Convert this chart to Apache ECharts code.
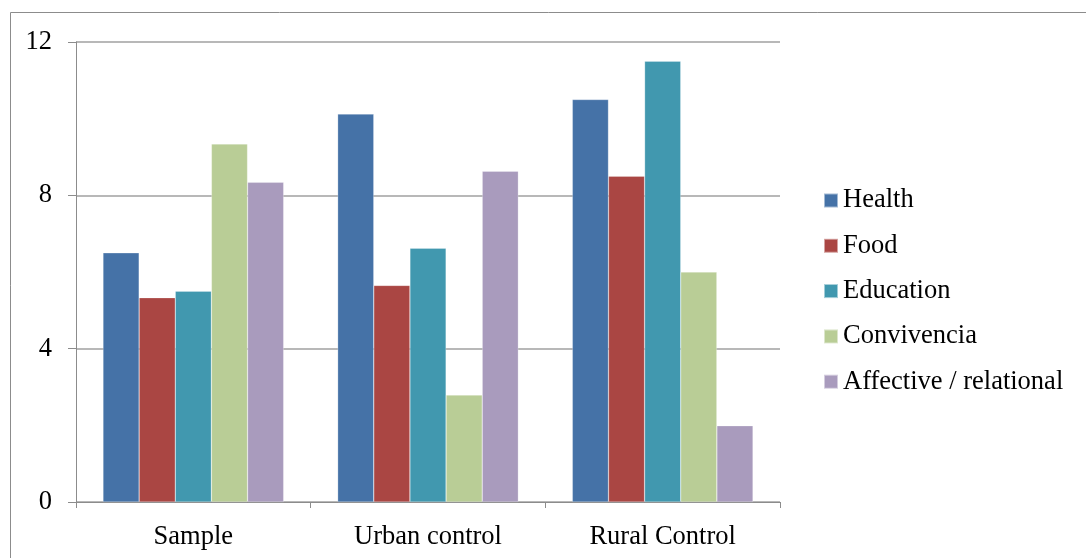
<!DOCTYPE html>
<html>
<head>
<meta charset="utf-8">
<script src="https://cdn.jsdelivr.net/npm/echarts@6/dist/echarts.min.js"></script>
<style>
    html, body { margin: 0; padding: 0; background: #fff; }
    #chart { width: 1086px; height: 558px; }
</style>
</head>
<body>
<div id="chart"></div>
<script>
    // groups on the x axis
    const categories = ['Sample', 'Urban control', 'Rural Control'];
    // one list per need, values per group
    const health = [6.5, 10.12, 10.5];
    const food = [5.33, 5.65, 8.5];
    const education = [5.5, 6.62, 11.5];
    const convivencia = [9.34, 2.79, 6.0];
    const affective = [8.34, 8.63, 1.99];
    const seriesNames = ['Health', 'Food', 'Education', 'Convivencia', 'Affective / relational'];
    const yTicks = [0, 4, 8, 12];

    const colors = ['#4572a7', '#aa4643', '#4198af', '#b9cd96', '#a99bbd'];
    const values = [health, food, education, convivencia, affective];
    const font = '"Liberation Serif", "Times New Roman", serif';
    const fontSize = 26.5;

    const chart = echarts.init(document.getElementById('chart'));
    chart.setOption({
        animation: false,
        color: colors,
        textStyle: { fontFamily: font },
        grid: { left: 76, top: 42, right: 306, bottom: 56 },
        legend: {
            orient: 'vertical',
            left: 823,
            top: 187,
            padding: 0,
            itemWidth: 14,
            itemHeight: 14,
            itemGap: 18.3,
            icon: 'rect',
            data: seriesNames,
            textStyle: { fontSize: fontSize, color: '#000', fontFamily: font, lineHeight: fontSize }
        },
        xAxis: {
            type: 'category',
            data: categories,
            axisLine: { lineStyle: { color: '#8c8c8c', width: 1 } },
            axisTick: { show: true, length: 6, lineStyle: { color: '#8c8c8c' } },
            axisLabel: { fontSize: fontSize, color: '#000', margin: 22, fontFamily: font }
        },
        yAxis: {
            type: 'value',
            min: 0,
            max: 12,
            interval: yTicks[1] - yTicks[0],
            axisLine: { show: true, lineStyle: { color: '#8c8c8c', width: 1 } },
            axisTick: { show: true, length: 8, inside: false, lineStyle: { color: '#8c8c8c' } },
            axisLabel: { fontSize: fontSize, color: '#000', margin: 24, fontFamily: font },
            splitLine: { lineStyle: { color: '#a0a0a0', width: 1.5 } }
        },
        graphic: [{
            type: 'rect',
            shape: { x: 10.5, y: 12.5, width: 1200, height: 700 },
            style: { fill: 'none', stroke: '#8c8c8c', lineWidth: 1 },
            silent: true
        }],
        series: seriesNames.map((name, i) => ({
            name: name,
            type: 'bar',
            data: values[i],
            barGap: '0%',
            barCategoryGap: '23%',
            itemStyle: { borderColor: 'rgba(255,255,255,0.5)', borderWidth: 0.5 }
        }))
    });
</script>
</body>
</html>
